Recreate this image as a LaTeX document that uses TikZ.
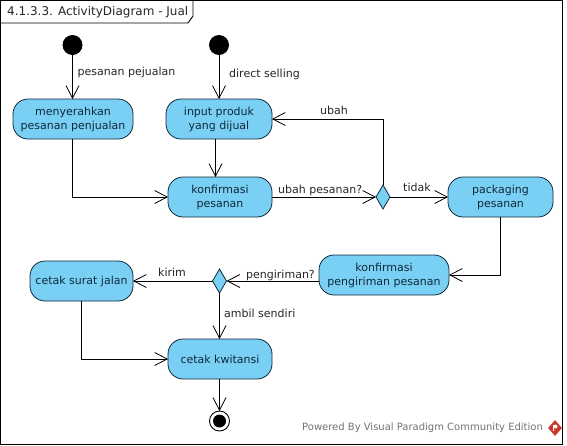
\documentclass[tikz,border=0pt]{standalone}
\usepackage{xcolor}
\usepackage{fontspec}
\setmainfont{DejaVu Sans}
\usetikzlibrary{positioning,arrows.meta,shapes.geometric}
\definecolor{actblue}{HTML}{7ACFF5}
\definecolor{acttext}{HTML}{0E2A38}
\definecolor{vpred}{HTML}{C8382E}
\tikzset{
  action/.style={draw=acttext, fill=actblue, rounded corners=15pt, minimum height=40pt,
    inner sep=0pt, outer sep=0pt, align=center, text=acttext, line width=0.8pt,
    font=\fontsize{11}{14}\selectfont},
  branch/.style={draw=acttext, fill=actblue, shape=diamond, minimum width=14pt, minimum height=24pt,
    inner sep=0pt, outer sep=0pt, line width=0.8pt},
  startdot/.style={circle, fill=black, minimum size=20pt, inner sep=0pt, outer sep=0pt},
  lbl/.style={right, inner sep=0pt, text=black!85, font=\fontsize{11}{13}\selectfont},
  flow/.style={->, line width=0.9pt}
}
\begin{document}
\begin{tikzpicture}[x=1pt, y=-1pt, >={Straight Barb[length=12.5pt, width=13pt, line width=0.8pt]}]
  \useasboundingbox (0,0) rectangle (567,445);
  % frame
  \draw[line width=0.9pt, fill=white] (0.5,0.5) rectangle (562,444);
  \draw[line width=0.9pt] (0.5,23) -- (188,23) -- (193,16) -- (193,0.5);
  \node[lbl, text=black!85, font=\fontsize{12}{14}\selectfont] (title) at (7,12) {4.1.3.3. ActivityDiagram - Jual};
  % initial and final
  \node[startdot] (awal1) at (72.5,45) {};
  \node[startdot] (awal2) at (219,45) {};
  \node[circle, draw, fill=white, line width=0.9pt, minimum size=20pt, inner sep=0pt, outer sep=0pt] (akhir) at (219.5,421) {};
  \node[circle, fill=black, minimum size=13pt, inner sep=0pt] (akhirdot) at (219.5,421) {};
  % actions
  \node[action, minimum width=120pt] (serah) at (73,119) {menyerahkan\\pesanan penjualan};
  \node[action, minimum width=106pt] (input) at (219,119) {input produk\\yang dijual};
  \node[action, minimum width=104pt] (konfirm) at (220,197) {konfirmasi\\pesanan};
  \node[action, minimum width=105pt] (packing) at (500.5,197) {packaging\\pesanan};
  \node[action, minimum width=130pt] (kirimok) at (384,275) {konfirmasi\\pengiriman pesanan};
  \node[action, minimum width=103pt] (suratjalan) at (81.5,281) {cetak surat jalan};
  \node[action, minimum width=104pt] (kwitansi) at (220,359) {cetak kwitansi};
  % decisions
  \node[branch] (ubah) at (383,197) {};
  \node[branch] (kirim) at (219.5,281) {};
  % flows
  \draw[flow] (awal1) -- (awal1 |- serah.north);
  \draw[flow] (awal2) -- (input.north -| awal2);
  \draw[flow] (serah.south -| awal1) |- (konfirm.west);
  \draw[flow] ([xshift=-3.5pt]input.south) -- ([xshift=-3.5pt]konfirm.north -| input.south);
  \draw[flow] (konfirm.east) -- (ubah.west);
  \draw[flow] (ubah.north) |- (input.east);
  \draw[flow] (ubah.east) -- (packing.west);
  \draw[flow] (packing.south) |- (kirimok.east);
  \draw[flow] (kirimok.west |- kirim.east) -- (kirim.east);
  \draw[flow] (kirim.west) -- (suratjalan.east);
  \draw[flow] (kirim.south) -- (kwitansi.north -| kirim.south);
  \draw[flow] (suratjalan.south) |- (kwitansi.west);
  \draw[flow] (kwitansi.south -| akhir) -- (akhir.north);
  % labels
  \node[lbl] (lpesan) at (77.5,72) {pesanan pejualan};
  \node[lbl] (ldirect) at (229,74) {direct selling};
  \node[lbl] (lubah) at (320,110) {ubah};
  \node[lbl] (ltanya) at (278,190) {ubah pesanan?};
  \node[lbl] (ltidak) at (403,187) {tidak};
  \node[lbl] (lkirim) at (158,272) {kirim};
  \node[lbl] (lpengiriman) at (246,275) {pengiriman?};
  \node[lbl] (lambil) at (224,313) {ambil sendiri};
  % footer
  \node[lbl, text=black!55, font=\fontsize{10}{13}\selectfont] (powered) at (302,428) {Powered By Visual Paradigm Community Edition};
  \node[diamond, fill=vpred, minimum width=14pt, minimum height=16pt, inner sep=0pt] (logo) at (555,428) {};
  \fill[white] (555.5,426.5) circle (2pt);
  \draw[white, line width=0.9pt] (553.5,425) -- (553.5,431);
\end{tikzpicture}
\end{document}
